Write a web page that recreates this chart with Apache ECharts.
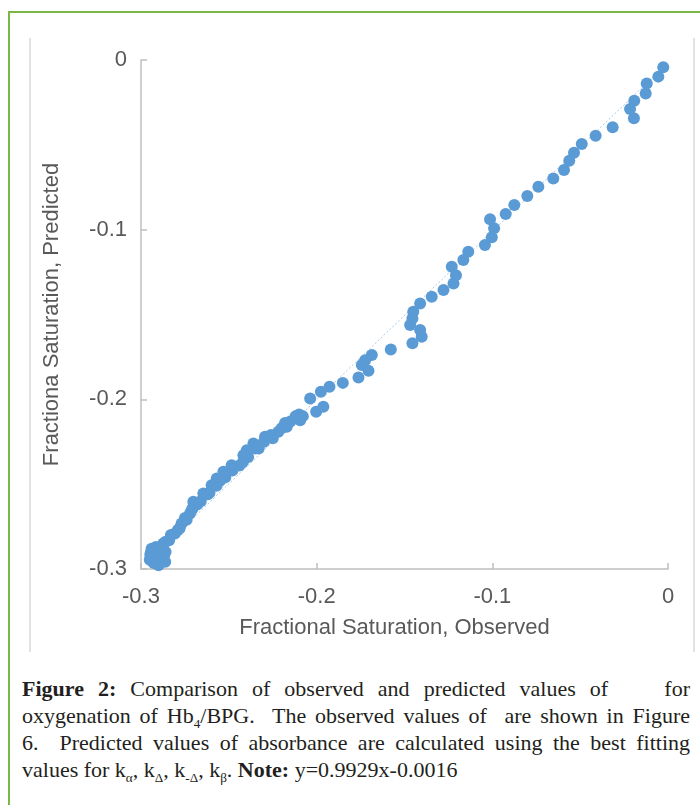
<!DOCTYPE html>
<html>
<head>
<meta charset="utf-8">
<script src="https://cdn.jsdelivr.net/npm/echarts@6/dist/echarts.min.js"></script>
<style>
  body { margin: 0; background: #fff; }
  .page { position: relative; width: 700px; height: 805px; overflow: hidden; background: #fff; }
  .frame { position: absolute; left: 8px; top: 11px; width: 720px; height: 820px;
    border-top: 2px solid #7ab648; border-left: 2px solid #7ab648; }
  .boxL { position: absolute; left: 29px; top: 38px; width: 2px; height: 614px; background: #e2e2e2; }
  .boxR { position: absolute; left: 693px; top: 38px; width: 2px; height: 614px; background: #e2e2e2; }
  #chart { position: absolute; left: 0; top: 0; width: 700px; height: 660px; }
  .caption { position: absolute; left: 22px; top: 675px; width: 668px;
    font-family: "Liberation Serif", "DejaVu Serif", serif; font-size: 22px; line-height: 27px; color: #231f20; }
  .caption div { white-space: nowrap; }
  .caption .j { text-align: justify; text-align-last: justify; white-space: normal; }
  .caption sub { font-size: 0.6em; line-height: 0; vertical-align: -0.35em; }
</style>
</head>
<body>
<div class="page">
  <div class="frame"></div>
  <div class="boxL"></div>
  <div class="boxR"></div>
  <div id="chart"></div>
  <div class="caption">
    <div class="j"><b>Figure 2:</b> Comparison of observed and predicted values of &nbsp;&nbsp; for</div>
    <div class="j">oxygenation of Hb<sub>4</sub>/BPG.&nbsp; The observed values of &nbsp;are shown in Figure</div>
    <div class="j">6.&nbsp; Predicted values of absorbance are calculated using the best fitting</div>
    <div>values for k<sub>α</sub>, k<sub>Δ</sub>, k<sub>-Δ</sub>, k<sub>β</sub>. <b>Note:</b> y=0.9929x-0.0016</div>
  </div>
</div>
<script>
// observed (x) / predicted (y) fractional saturation
var observed = [
  -0.0027, -0.0055, -0.0121, -0.0127, -0.0192, -0.0216, -0.0194, -0.0315, -0.0412, -0.0491,
  -0.0535, -0.0562, -0.0592, -0.0653, -0.0738, -0.0801, -0.0875, -0.0924, -0.1013, -0.0990,
  -0.1003, -0.1042, -0.1137, -0.1165, -0.1231, -0.1207, -0.1221, -0.1278, -0.1345, -0.1411,
  -0.1450, -0.1455, -0.1468, -0.1411, -0.1402, -0.1455, -0.1578, -0.1686, -0.1724, -0.1743,
  -0.1705, -0.1762, -0.1851, -0.1927, -0.1976, -0.2037, -0.1962, -0.2003, -0.2079, -0.2094,
  -0.2170, -0.2218, -0.2294, -0.2360, -0.2398, -0.2417, -0.2484, -0.2531, -0.2569, -0.2598,
  -0.2645, -0.2702, -0.2702, -0.2721, -0.2769, -0.2807, -0.2873, -0.2919, -0.2928, -0.2900,
  -0.2862, -0.2947, -0.2250, -0.2420, -0.2550, -0.2620, -0.2680, -0.2750, -0.2780, -0.2840,
  -0.2890, -0.2910, -0.2880, -0.2930, -0.2900, -0.2940, -0.2860, -0.2180, -0.2100, -0.2330,
  -0.2860, -0.2830, -0.2790, -0.2740, -0.2710, -0.2660, -0.2610, -0.2570, -0.2520, -0.2480,
  -0.2440, -0.2390, -0.2350, -0.2300, -0.2260, -0.2200, -0.2150, -0.2120, -0.2925, -0.2950,
  -0.2895, -0.2870, -0.2915, -0.2945
];
var predicted = [
  -0.0043, -0.0098, -0.0138, -0.0197, -0.0240, -0.0289, -0.0344, -0.0397, -0.0446, -0.0495,
  -0.0546, -0.0594, -0.0649, -0.0698, -0.0747, -0.0802, -0.0855, -0.0908, -0.0939, -0.0992,
  -0.1045, -0.1091, -0.1130, -0.1179, -0.1219, -0.1268, -0.1317, -0.1356, -0.1395, -0.1435,
  -0.1484, -0.1523, -0.1562, -0.1592, -0.1631, -0.1670, -0.1706, -0.1739, -0.1769, -0.1798,
  -0.1832, -0.1871, -0.1903, -0.1926, -0.1955, -0.1995, -0.2044, -0.2073, -0.2099, -0.2123,
  -0.2162, -0.2191, -0.2221, -0.2260, -0.2300, -0.2329, -0.2388, -0.2427, -0.2466, -0.2506,
  -0.2555, -0.2604, -0.2634, -0.2673, -0.2732, -0.2791, -0.2850, -0.2889, -0.2938, -0.2978,
  -0.2958, -0.2918, -0.2230, -0.2370, -0.2480, -0.2560, -0.2620, -0.2700, -0.2760, -0.2830,
  -0.2870, -0.2920, -0.2940, -0.2960, -0.2900, -0.2880, -0.2900, -0.2140, -0.2090, -0.2290,
  -0.2840, -0.2800, -0.2770, -0.2710, -0.2650, -0.2600, -0.2550, -0.2510, -0.2460, -0.2420,
  -0.2390, -0.2340, -0.2290, -0.2250, -0.2210, -0.2170, -0.2130, -0.2100, -0.2965, -0.2945,
  -0.2955, -0.2925, -0.2870, -0.2905
];
// linear trendline ends (y=0.9929x-0.0016)
var trendX = [-0.2950, -0.0027];
var trendY = [-0.2945, -0.0043];

var ticks = [-0.3, -0.2, -0.1, 0];

var points = observed.map(function (x, i) { return [x, predicted[i]]; });
var trend = trendX.map(function (x, i) { return [x, trendY[i]]; });

var chart = echarts.init(document.getElementById("chart"));
var axisText = { color: "#595959", fontSize: 22, fontFamily: "Liberation Sans, Arial, sans-serif" };

chart.setOption({
  animation: false,
  grid: { left: 141, right: 32, top: 60, bottom: 91 },
  xAxis: {
    type: "value",
    min: ticks[0], max: ticks[3], interval: 0.1,
    name: "Fractional Saturation, Observed",
    nameLocation: "middle",
    nameGap: 48,
    nameTextStyle: Object.assign({ padding: [0, 20, 0, 0] }, axisText),
    axisLine: { show: true, onZero: false, lineStyle: { color: "#bfbfbf", width: 1.5 } },
    axisTick: { show: true, inside: true, length: 6, lineStyle: { color: "#bfbfbf", width: 1.5 } },
    axisLabel: Object.assign({ margin: 17 }, axisText),
    splitLine: { show: false }
  },
  yAxis: {
    type: "value",
    min: ticks[0], max: ticks[3], interval: 0.1,
    name: "Fractiona Saturation, Predicted",
    nameLocation: "middle",
    nameGap: 78,
    nameTextStyle: axisText,
    axisLine: { show: true, onZero: false, lineStyle: { color: "#bfbfbf", width: 1.5 } },
    axisTick: { show: true, inside: true, length: 6, lineStyle: { color: "#bfbfbf", width: 1.5 } },
    axisLabel: Object.assign({ margin: 14 }, axisText),
    splitLine: { show: false }
  },
  series: [
    {
      type: "line",
      data: trend,
      symbol: "none",
      z: 1,
      lineStyle: { color: "#a9c8ea", width: 1, type: [2, 2] }
    },
    {
      type: "scatter",
      data: points,
      symbolSize: 12,
      z: 2,
      itemStyle: { color: "#5b9bd5", opacity: 1 }
    }
  ]
});
</script>
</body>
</html>
